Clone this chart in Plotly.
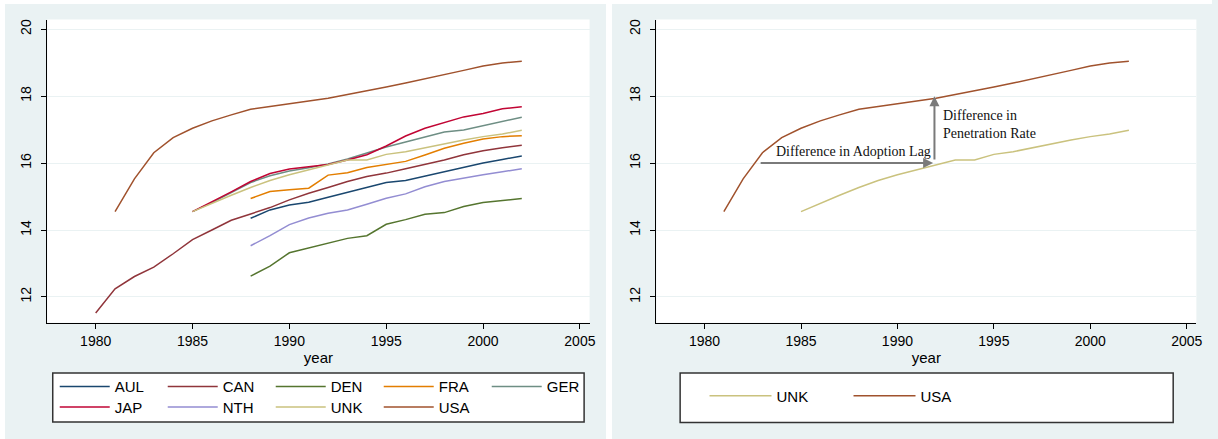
import plotly.graph_objects as go

# Panel size in pixels
W, H = 1218, 439

# Series (first year, values by consecutive year)
AUL_START = 1988
AUL = [14.35, 14.60, 14.75, 14.83, 14.98, 15.12, 15.27, 15.42, 15.48, 15.61,
       15.74, 15.89, 16.00, 16.11, 16.21]
CAN_START = 1980
CAN = [11.52, 12.24, 12.61, 12.89, 13.29, 13.71, 14.00, 14.29, 14.48, 14.67,
       14.90, 15.10, 15.27, 15.45, 15.60, 15.70, 15.83, 15.96, 16.09, 16.25,
       16.37, 16.46, 16.53]
DEN_START = 1988
DEN = [12.62, 12.92, 13.32, 13.46, 13.61, 13.75, 13.83, 14.17, 14.31, 14.47,
       14.52, 14.70, 14.82, 14.89, 14.94]
FRA_START = 1988
FRA = [14.94, 15.15, 15.20, 15.25, 15.64, 15.71, 15.87, 15.96, 16.05, 16.24,
       16.44, 16.59, 16.72, 16.79, 16.82]
GER_START = 1985
GER = [14.55, 14.82, 15.12, 15.42, 15.62, 15.76, 15.86, 15.97, 16.12, 16.30,
       16.48, 16.63, 16.78, 16.93, 16.99, 17.11, 17.24, 17.37]
JAP_START = 1985
JAP = [14.55, 14.84, 15.14, 15.45, 15.69, 15.82, 15.90, 15.96, 16.09, 16.25,
       16.51, 16.81, 17.04, 17.21, 17.38, 17.48, 17.62, 17.68]
NTH_START = 1988
NTH = [13.53, 13.83, 14.16, 14.36, 14.50, 14.60, 14.77, 14.95, 15.08, 15.29,
       15.45, 15.56, 15.65, 15.74, 15.83]
UNK_START = 1985
UNK = [14.55, 14.80, 15.04, 15.27, 15.48, 15.65, 15.80, 15.95, 16.09, 16.09,
       16.26, 16.34, 16.46, 16.57, 16.69, 16.79, 16.87, 16.98]
USA_START = 1981
USA = [14.55, 15.53, 16.31, 16.76, 17.04, 17.26, 17.44, 17.61, 17.69, 17.77,
       17.85, 17.94, 18.05, 18.15, 18.27, 18.39, 18.51, 18.65, 18.77, 18.90,
       18.99, 19.04]

X_TICKS = [1980, 1985, 1990, 1995, 2000, 2005]
Y_TICKS = [12, 14, 16, 18, 20]

# Stata s2color palette
COLORS = {
    "AUL": "#1a476f", "CAN": "#90353b", "DEN": "#55752f", "FRA": "#e37e00",
    "GER": "#6e8e84", "JAP": "#c10534", "NTH": "#938dd2", "UNK": "#cac27e",
    "USA": "#a0522d",
}

SERIES = [
    ("AUL", AUL_START, AUL), ("CAN", CAN_START, CAN), ("DEN", DEN_START, DEN),
    ("FRA", FRA_START, FRA), ("GER", GER_START, GER), ("JAP", JAP_START, JAP),
    ("NTH", NTH_START, NTH), ("UNK", UNK_START, UNK), ("USA", USA_START, USA),
]

BG = "#EAF2F3"
SANS = "Liberation Sans, Arial, sans-serif"
SERIF = "Liberation Serif, Times New Roman, serif"


def years_for(start, vals):
    return list(range(start, start + len(vals)))


fig = go.Figure()

# Left panel: all countries
for i, (name, start, vals) in enumerate(SERIES):
    fig.add_trace(go.Scatter(
        x=years_for(start, vals), y=vals, mode="lines", name=name,
        line=dict(color=COLORS[name], width=1.5),
        xaxis="x", yaxis="y",
        legend="legend" if i < 5 else "legend2",
    ))

# Right panel: UK versus US
for name, start, vals in [("UNK", UNK_START, UNK), ("USA", USA_START, USA)]:
    fig.add_trace(go.Scatter(
        x=years_for(start, vals), y=vals, mode="lines", name=name,
        line=dict(color=COLORS[name], width=1.5),
        xaxis="x2", yaxis="y2", legend="legend3",
    ))


def xdom(a, b):
    return [a / W, b / W]


YDOM = [1 - 322.7 / H, 1 - 19.5 / H]

axis_common = dict(
    showline=True, linecolor="#000000", linewidth=1,
    ticks="outside", ticklen=5, tickwidth=1, tickcolor="#000000",
    tickfont=dict(family=SANS, size=14, color="#000000"),
    zeroline=False,
)
xaxis_common = dict(
    axis_common, range=[1977.5, 2005.5], tickvals=X_TICKS, showgrid=False,
    title=dict(text="year", font=dict(family=SANS, size=15, color="#000000"),
               standoff=3),
)
yaxis_common = dict(
    axis_common, range=[11.23, 20.29], tickvals=Y_TICKS, tickangle=-90,
    showgrid=True, gridcolor=BG, gridwidth=1, ticklabelstandoff=5,
)

legend_common = dict(
    orientation="h", xanchor="left", yanchor="middle",
    bgcolor="rgba(0,0,0,0)", borderwidth=0,
    font=dict(family=SANS, size=15, color="#000000"),
    entrywidthmode="pixels", traceorder="normal",
)

fig.update_layout(
    width=W, height=H,
    margin=dict(l=0, r=0, t=0, b=0),
    paper_bgcolor=BG, plot_bgcolor="white",
    xaxis=dict(xaxis_common, domain=xdom(47.5, 592.5), anchor="y"),
    yaxis=dict(yaxis_common, domain=YDOM, anchor="x"),
    xaxis2=dict(xaxis_common, domain=xdom(659.6, 1202.3), anchor="y2"),
    yaxis2=dict(yaxis_common, domain=YDOM, anchor="x2"),
    legend=dict(legend_common, x=55 / W, y=1 - 386.7 / H, itemwidth=50,
                entrywidth=43),
    legend2=dict(legend_common, x=55 / W, y=1 - 407.3 / H, itemwidth=50,
                 entrywidth=43),
    legend3=dict(legend_common, x=708 / W, y=1 - 396 / H, itemwidth=62,
                 entrywidth=67),
    showlegend=True,
)

# White margins between and around the two panels, and legend frames
shapes = [
    dict(type="rect", xref="paper", yref="paper", x0=0, x1=5 / W, y0=0, y1=1,
         fillcolor="white", line=dict(width=0), layer="below"),
    dict(type="rect", xref="paper", yref="paper", x0=609 / W, x1=615 / W,
         y0=0, y1=1, fillcolor="white", line=dict(width=0), layer="below"),
    dict(type="rect", xref="paper", yref="paper", x0=0, x1=1, y0=1 - 4 / H,
         y1=1, fillcolor="white", line=dict(width=0), layer="below"),
    dict(type="rect", xref="paper", yref="paper", x0=53 / W, x1=587 / W,
         y0=1 - 422 / H, y1=1 - 373 / H, fillcolor="white",
         line=dict(color="#333333", width=1.5), layer="below"),
    dict(type="rect", xref="paper", yref="paper", x0=683.5 / W, x1=1179 / W,
         y0=1 - 422.5 / H, y1=1 - 373 / H, fillcolor="white",
         line=dict(color="#333333", width=1.5), layer="below"),
]
fig.update_layout(shapes=shapes)

# Gap annotations on the right panel
ARROW = "#7a7a7a"
fig.add_annotation(
    x=1991.85, y=16.0, ax=1982.83, ay=16.0, xref="x2", yref="y2",
    axref="x2", ayref="y2", text="", showarrow=True, arrowhead=2,
    arrowsize=1, arrowwidth=2, arrowcolor=ARROW,
)
fig.add_annotation(
    x=1991.92, y=18.0, ax=1991.92, ay=16.06, xref="x2", yref="y2",
    axref="x2", ayref="y2", text="", showarrow=True, arrowhead=2,
    arrowsize=1, arrowwidth=2, arrowcolor=ARROW,
)
fig.add_annotation(
    x=1983.6, y=16.35, xref="x2", yref="y2", xanchor="left", yanchor="middle",
    text="Difference in Adoption Lag", showarrow=False,
    font=dict(family=SERIF, size=14, color="#111111"),
)
fig.add_annotation(
    x=1992.27, y=17.16, xref="x2", yref="y2", xanchor="left",
    yanchor="middle", align="left",
    text="Difference in<br>Penetration Rate", showarrow=False,
    font=dict(family=SERIF, size=14, color="#111111"),
)

fig.write_html("out.html")
